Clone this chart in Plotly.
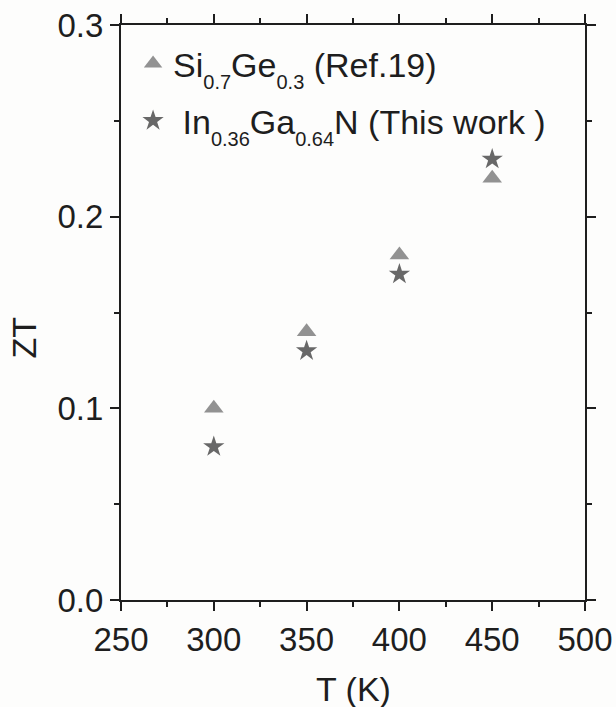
import plotly.graph_objects as go

# Temperature (K) and figure of merit ZT
temps = [300, 350, 400, 450]
zt_sige = [0.10, 0.14, 0.18, 0.22]
zt_ingan = [0.08, 0.13, 0.17, 0.23]

x_ticks = [250, 300, 350, 400, 450, 500]
y_ticks = [0.0, 0.1, 0.2, 0.3]
y_tick_text = ["0.0", "0.1", "0.2", "0.3"]

FONT = "Liberation Sans, Arial, sans-serif"
INK = "#1e1e1e"


def sub(s):
    # deep subscript at a readable size
    return '<sub><sub><span style="font-size:20px">' + s + "</span></sub></sub>"


fig = go.Figure()
fig.add_trace(go.Scatter(
    x=temps, y=zt_sige, mode="markers", legendgroup="a",
    name="Si" + sub("0.7") + "Ge" + sub("0.3") + " (Ref.19)",
    marker=dict(symbol="triangle-up", size=17, color="#929292", line=dict(width=0)),
))
fig.add_trace(go.Scatter(
    x=temps, y=zt_ingan, mode="markers", legendgroup="b",
    name=" In" + sub("0.36") + "Ga" + sub("0.64") + "N (This work )",
    marker=dict(symbol="star", size=16, color="#686868", line=dict(width=0)),
))

axis_common = dict(
    showline=True, linecolor=INK, linewidth=2, mirror="allticks",
    ticks="outside", ticklen=9, tickwidth=1.5, tickcolor=INK,
    showgrid=False, zeroline=False, automargin=False,
    tickfont=dict(family=FONT, size=33, color=INK),
)

fig.update_xaxes(
    range=[250, 500], tickvals=x_ticks,
    minor=dict(ticks="outside", ticklen=5, tickwidth=1.5, tickcolor=INK, dtick=25, showgrid=False),
    **axis_common,
)
fig.update_yaxes(
    range=[0, 0.3], tickvals=y_ticks, ticktext=y_tick_text,
    minor=dict(ticks="outside", ticklen=5, tickwidth=1.5, tickcolor=INK, dtick=0.05, showgrid=False),
    **axis_common,
)

# Axis titles
fig.add_annotation(text="T (K)", xref="paper", yref="paper", x=0.5, y=-0.155,
                   xanchor="center", yanchor="middle", showarrow=False,
                   font=dict(family=FONT, size=34, color=INK))
fig.add_annotation(text="ZT", xref="paper", yref="paper", x=-0.21, y=0.4557,
                   xanchor="center", yanchor="middle", showarrow=False, textangle=-90,
                   font=dict(family=FONT, size=34, color=INK))

fig.update_layout(
    width=616, height=707,
    margin=dict(l=121, r=31, t=25, b=107, autoexpand=False),
    paper_bgcolor="#fdfdfc", plot_bgcolor="#fdfdfc",
    showlegend=True,
    legend=dict(
        x=0.026, y=0.983, xanchor="left", yanchor="top",
        bgcolor="rgba(0,0,0,0)", borderwidth=0,
        font=dict(family=FONT, size=34, color=INK),
        itemwidth=30, tracegroupgap=10,
    ),
)

fig.write_html("out.html")
